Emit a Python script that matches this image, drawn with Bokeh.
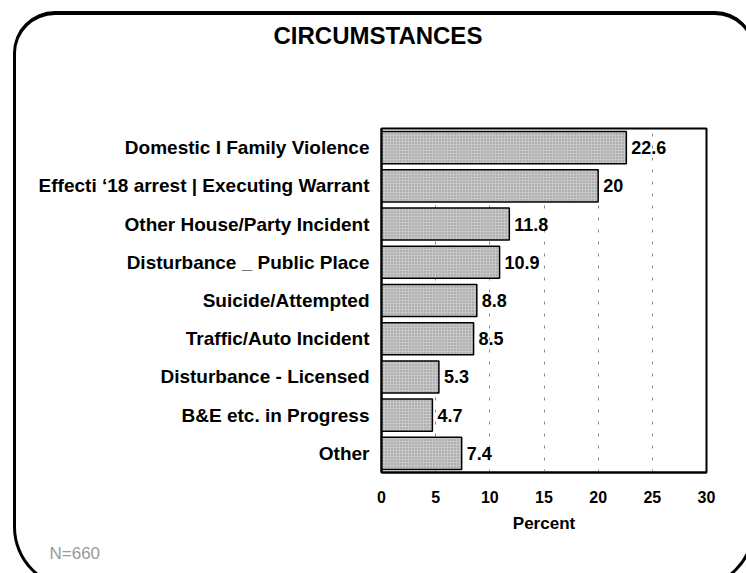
from bokeh.plotting import figure
from bokeh.models import ColumnDataSource, FactorRange, Range1d, LabelSet, Title, FixedTicker
from bokeh.core.properties import value
from bokeh.embed import file_html
from bokeh.resources import INLINE

categories = [
    "Domestic I Family Violence",
    "Effecti \u201818 arrest | Executing Warrant",
    "Other House/Party Incident",
    "Disturbance _ Public Place",
    "Suicide/Attempted",
    "Traffic/Auto Incident",
    "Disturbance - Licensed",
    "B&E etc. in Progress",
    "Other",
]
values = [22.6, 20, 11.8, 10.9, 8.8, 8.5, 5.3, 4.7, 7.4]
value_labels = ["22.6", "20", "11.8", "10.9", "8.8", "8.5", "5.3", "4.7", "7.4"]
x_ticks = [0, 5, 10, 15, 20, 25, 30]
title_text = "CIRCUMSTANCES"
x_label = "Percent"
note_text = "N=660"

FONT = "Liberation Sans"

src = ColumnDataSource(dict(cat=categories, val=values, lab=value_labels))

border_css = """
:host { position: relative; overflow: hidden; }
:host::after {
  content: ""; position: absolute; left: 13px; top: 11px;
  width: 742px; height: 578px; box-sizing: border-box;
  border: 3px solid black; border-top-width: 4px;
  border-radius: 42px 40px 62px 62px; pointer-events: none;
}
"""

p = figure(
    width=746, height=573,
    y_range=FactorRange(*categories[::-1]),
    x_range=Range1d(0, 30),
    output_backend="svg", toolbar_location=None,
    min_border_left=381, min_border_right=40,
    min_border_top=128, min_border_bottom=101,
    stylesheets=[border_css],
)
p.title = None
p.background_fill_color = "white"
p.border_fill_color = "white"
p.outline_line_color = "black"
p.outline_line_width = 2

p.hbar(y="cat", right="val", left=0, height=0.84, source=src,
       fill_color="#c8c8c8", line_color="black", line_width=1.5,
       hatch_pattern="dot", hatch_scale=3, hatch_color="#555555",
       hatch_weight=1, hatch_alpha=0.55)

labels = LabelSet(x="val", y="cat", text="lab", source=src, x_offset=5,
                  text_baseline="middle", text_font=value(FONT),
                  text_font_style="bold", text_font_size="18px", text_color="black")
p.add_layout(labels)

# axes
p.xaxis.ticker = FixedTicker(ticks=x_ticks)
p.xaxis.axis_label = x_label
p.xaxis.axis_label_text_font = FONT
p.xaxis.axis_label_text_font_style = "bold"
p.xaxis.axis_label_text_font_size = "17px"
p.xaxis.axis_label_text_color = "black"
p.xaxis.axis_label_standoff = 8
p.xaxis.major_label_text_font = FONT
p.xaxis.major_label_text_font_style = "bold"
p.xaxis.major_label_text_font_size = "16px"
p.xaxis.major_label_text_color = "black"
p.xaxis.major_label_standoff = 12
p.xaxis.major_tick_line_color = None
p.xaxis.minor_tick_line_color = None
p.xaxis.axis_line_color = "black"
p.xaxis.axis_line_width = 2

p.yaxis.major_label_text_font = FONT
p.yaxis.major_label_text_font_style = "bold"
p.yaxis.major_label_text_font_size = "19px"
p.yaxis.major_label_text_color = "black"
p.yaxis.major_label_standoff = 6
p.yaxis.major_tick_line_color = None
p.yaxis.minor_tick_line_color = None
p.yaxis.axis_line_color = "black"
p.yaxis.axis_line_width = 2

p.ygrid.grid_line_color = None
p.xgrid.grid_line_color = "#888888"
p.xgrid.grid_line_dash = "3 9"
p.xgrid.grid_line_width = 1

# empty spacer next to the frame, then the title further up
p.add_layout(Title(text=" ", text_font_size="56px"), "above")
p.add_layout(Title(text=title_text, align="left", offset=-108,
                   text_font=FONT, text_font_style="bold", text_font_size="24px",
                   text_color="black"), "above")
p.add_layout(Title(text=note_text, align="left", offset=-332, standoff=12,
                   text_font=FONT, text_font_style="normal", text_font_size="17px",
                   text_color="#9a9a9a"), "below")

open("out.html", "w").write(file_html(p, INLINE))
